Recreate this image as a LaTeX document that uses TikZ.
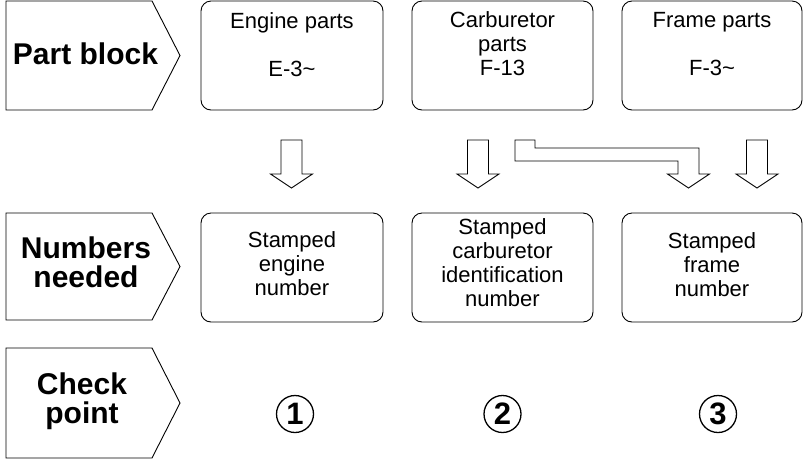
\documentclass[tikz,border=0pt]{standalone}
\usepackage{fontspec}
\setmainfont{Liberation Sans}
\begin{document}
\begin{tikzpicture}[x=1pt,y=-1pt,
  outline/.style={draw=black,line width=0.9pt,line join=miter},
  box/.style={outline,rounded corners=10pt},
  lbltext/.style={font=\bfseries\fontsize{30}{29}\selectfont,align=center,inner sep=0pt},
  btext/.style={font=\fontsize{22}{24}\selectfont,align=center,inner sep=0pt,anchor=north},
  numcirc/.style={circle,draw=black,line width=1.3pt,minimum size=37pt,inner sep=0pt,font=\bfseries\fontsize{31}{31}\selectfont},
  downarr/.pic={\draw[outline] (-10.5,0) -- (10.5,0) -- (10.5,34) -- (21,34) -- (0,48) -- (-21,34) -- (-10.5,34) -- cycle;}
]
\useasboundingbox (0,0) rectangle (803,459);
% label pentagons
\draw[outline] (6,1) -- (152,1) -- (180,55.5) -- (152,110) -- (6,110) -- cycle;
\draw[outline] (6,213) -- (152,213) -- (180,266.5) -- (152,320) -- (6,320) -- cycle;
\draw[outline] (6,348) -- (152,348) -- (180,403) -- (152,458) -- (6,458) -- cycle;
\node[lbltext,anchor=base] (lpart) at (85.5,64.5) {Part block};
\node[lbltext,anchor=north] (lnum) at (86,236.5) {Numbers\\needed};
\node[lbltext,anchor=north] (lchk) at (82,372.5) {Check\\point};
% row 1 boxes
\draw[box] (201,1) rectangle (383,110);
\draw[box] (412,1) rectangle (593,110);
\draw[box] (622,1) rectangle (802,110);
\node[btext] (e1) at (292,12.2) {Engine parts\\[24pt]E-3\textasciitilde};
\node[btext] (c1) at (502.5,11.8) {Carburetor\\parts\\F-13};
\node[btext] (f1) at (712,12.2) {Frame parts\\[24pt]F-3\textasciitilde};
% row 2 boxes
\draw[box] (201,213) rectangle (383,322);
\draw[box] (412,213) rectangle (593,322);
\draw[box] (622,213) rectangle (802,322);
\node[btext] (e2) at (292,231) {Stamped\\engine\\number};
\node[btext] (c2) at (502.5,218) {Stamped\\carburetor\\identification\\number};
\node[btext] (f2) at (712,232) {Stamped\\frame\\number};
% block arrows
\pic at (291.5,140) {downarr};
\pic at (478,140) {downarr};
\pic at (757,140) {downarr};
\draw[outline] (515,140) -- (535,140) -- (535,148) -- (699,148) -- (699,174) -- (709.5,174) -- (688.5,188) -- (667.5,174) -- (678,174) -- (678,161) -- (515,161) -- cycle;
% check points
\node[numcirc] (p1) at (295,414) {1};
\node[numcirc] (p2) at (502.5,414) {2};
\node[numcirc] (p3) at (718,414) {3};
\end{tikzpicture}
\end{document}
